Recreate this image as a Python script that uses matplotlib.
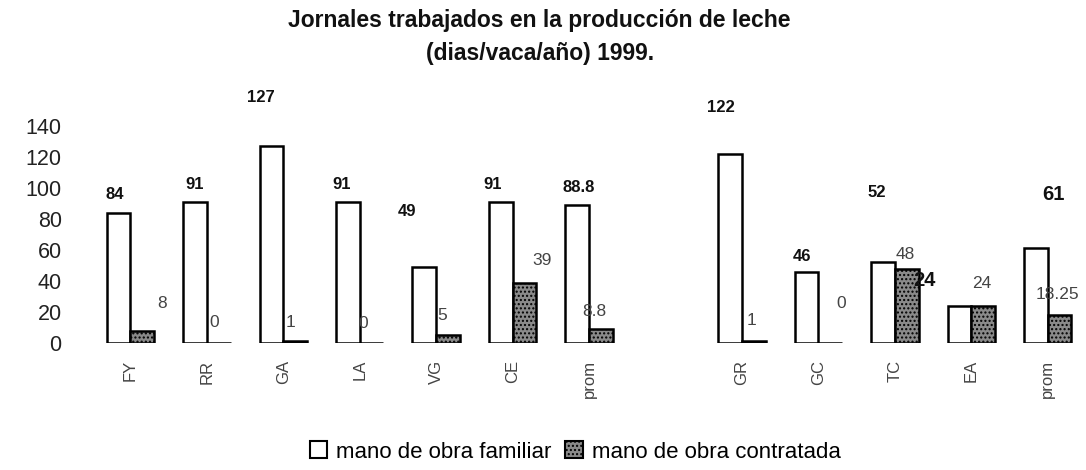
import matplotlib
matplotlib.use("Agg")
import matplotlib.pyplot as plt
from matplotlib.patches import Patch

plt.rcParams['font.family'] = ['Liberation Sans', 'DejaVu Sans']

# categories: two groups of farms, each with its own average
categorias = ['FY', 'RR', 'GA', 'LA', 'VG', 'CE', 'prom', 'GR', 'GC', 'TC', 'EA', 'prom']
posiciones = [0, 1, 2, 3, 4, 5, 6, 8, 9, 10, 11, 12]

familiar = [84, 91, 127, 91, 49, 91, 88.8, 122, 46, 52, 24, 61]
contratada = [8, 0, 1, 0, 5, 39, 8.8, 1, 0, 48, 24, 18.25]

etiq_familiar = ['84', '91', '127', '91', '49', '91', '88.8', '122', '46', '52', '24', '61']
etiq_contratada = ['8', '0', '1', '0', '5', '39', '8.8', '1', '0', '48', '24', '18.25']

# where the scanned chart put its value labels (data coords)
pos_familiar = [(-0.2, 95.5), (0.84, 102), (1.71, 158.5), (2.76, 102), (3.62, 85),
                (4.74, 102), (5.87, 100), (7.72, 152), (8.79, 56), (9.76, 97),
                (10.39, 40.6), (12.07, 95.5)]
pos_contratada = [(0.41, 25.8), (1.09, 13.5), (2.09, 13.5), (3.05, 12.9), (4.08, 18),
                  (5.39, 53.5), (6.07, 20), (8.12, 14.8), (9.30, 25.8), (10.14, 57.4),
                  (11.14, 38.7), (12.12, 31)]

W = 0.31
gris = '#8a8a8a'

fig = plt.figure(figsize=(10.86, 4.70), dpi=100)
ax = fig.add_axes([70 / 1086, 1 - 343 / 470, 1 - 70 / 1086, 217 / 470])

xf = [p - W / 2 for p in posiciones]
xc = [p + W / 2 for p in posiciones]
ax.bar(xf, familiar, width=W, color='white', edgecolor='black', linewidth=1.8)
ax.bar(xc, contratada, width=W, color=gris, edgecolor='black', linewidth=1.8,
       hatch='....')

for (x, y), t in zip(pos_familiar, etiq_familiar):
    size = 14.5 if t in ('61', '24') else 12
    ax.text(x, y, t, ha='center', va='center', fontsize=size, fontweight='bold',
            color='#111111', clip_on=False)
for (x, y), t in zip(pos_contratada, etiq_contratada):
    ax.text(x, y, t, ha='center', va='center', fontsize=12.5, color='#444444',
            clip_on=False)

ax.set_xlim(-0.79, 12.5)
ax.set_ylim(0, 140)
ax.set_yticks(range(0, 141, 20))
ax.set_xticks(posiciones)
ax.set_xticklabels(categorias, rotation=90, fontsize=12, color='#444444')
ax.tick_params(axis='y', length=0, pad=6, labelsize=15.5, labelcolor='#222222')
ax.tick_params(axis='x', length=0, pad=12)
for s in ax.spines.values():
    s.set_visible(False)

fig.text(0.497, 1 - 37 / 470,
         'Jornales trabajados en la producción de leche\n(dias/vaca/año) 1999.',
         ha='center', va='center', fontsize=16.5, fontweight='bold',
         linespacing=1.55, color='#111111')

handles = [Patch(facecolor='white', edgecolor='black', linewidth=1.5),
           Patch(facecolor=gris, edgecolor='black', linewidth=1.5, hatch='....')]
fig.legend(handles, ['mano de obra familiar', 'mano de obra contratada'],
           loc='center', bbox_to_anchor=(575 / 1086, 1 - 452 / 470), ncol=2,
           frameon=False, fontsize=16, handlelength=0.8, handleheight=0.8,
           handletextpad=0.4, columnspacing=0.6)

fig.savefig('out.png', dpi=100)
